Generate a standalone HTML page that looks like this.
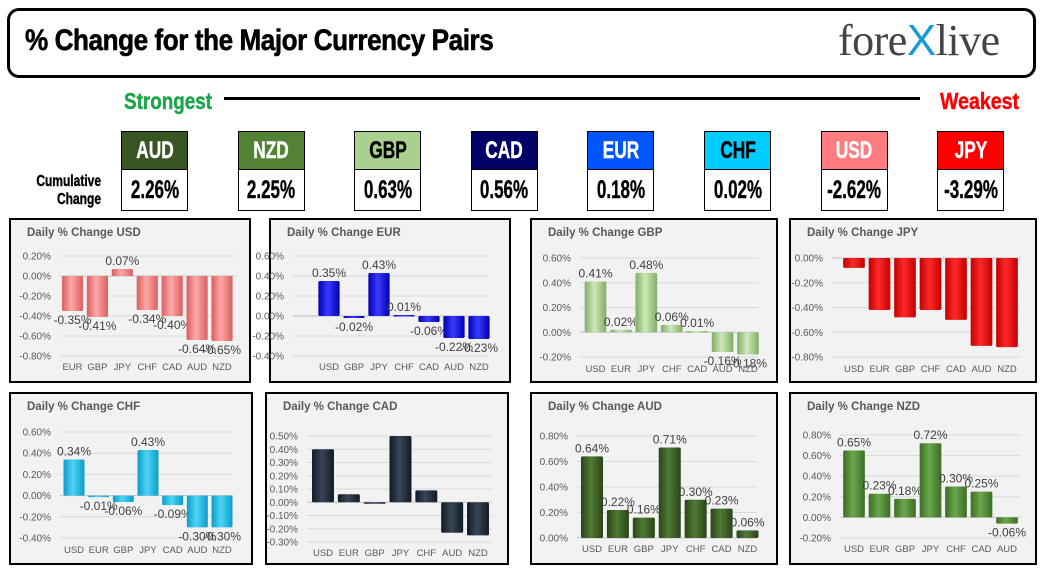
<!DOCTYPE html>
<html><head><meta charset="utf-8">
<style>
body{margin:0;width:1043px;height:578px;background:#fff;overflow:hidden;position:relative;font-family:"Liberation Sans",sans-serif}
.abs{position:absolute}
.hdr{left:7px;top:8px;width:1023px;height:64px;border:3px solid #000;border-radius:12px}
.title{left:25px;top:24px;font-size:30px;font-weight:bold;transform:scaleX(0.87);transform-origin:left top;white-space:nowrap;letter-spacing:-0.5px;-webkit-text-stroke:0.6px #000}
.logo{left:838px;top:15px;font-family:"Liberation Serif",serif;font-size:44px;color:#444;white-space:nowrap;letter-spacing:-0.5px}
.cond{font-weight:bold;transform:scaleX(0.78);transform-origin:left top;white-space:nowrap;-webkit-text-stroke:0.4px currentColor}
.cell{border:1px solid #000;box-sizing:border-box;text-align:center;overflow:visible}
.ct{position:absolute;left:50%;top:0;font-weight:bold;white-space:nowrap;-webkit-text-stroke:0.4px currentColor;transform:translateX(-50%) scaleX(0.72)}
</style></head><body>
<div class="abs hdr"></div>
<div class="abs title">% Change for the Major Currency Pairs</div>
<div class="abs logo">fore<span style="color:#1a9ad6;font-family:'Liberation Sans',sans-serif">X</span>live</div>
<div class="abs cond" style="left:124px;top:88px;font-size:23px;color:#1aa64a;transform:scaleX(0.82)">Strongest</div>
<div class="abs" style="left:224px;top:97px;width:696px;height:3px;background:#000"></div>
<div class="abs cond" style="left:940px;top:88px;font-size:23px;color:#f00;transform:scaleX(0.85)">Weakest</div>
<div class="abs cond" style="left:0px;top:173px;font-size:16px;line-height:18px;text-align:right;width:101px;transform:scaleX(0.75);transform-origin:right top">Cumulative<br>Change</div>
<div id="cells"></div>
<svg id="charts" class="abs" style="left:0;top:0" width="1043" height="578"></svg>
<script>
const cumCurr=["AUD","NZD","GBP","CAD","EUR","CHF","USD","JPY"];
const cumVals=["2.26%","2.25%","0.63%","0.56%","0.18%","0.02%","-2.62%","-3.29%"];
const cumColors=["#375623","#548235","#a9d08e","#000066","#0055ff","#00ccff","#ff7c80","#ff0000"];
const cumText=["#fff","#fff","#000","#fff","#fff","#000","#fff","#fff"];
const cc=document.getElementById('cells');
cumCurr.forEach((c,i)=>{
  const x=121+i*116.6;
  const a=document.createElement('div');a.className='abs cell';
  
  
  a.style.cssText=`left:${x}px;top:131px;width:67px;height:39px;background:${cumColors[i]};color:${cumText[i]};`;
  a.innerHTML=`<div class="ct" style="font-size:24px;line-height:37px">${c}</div>`;
  cc.appendChild(a);
  const b=document.createElement('div');b.className='abs cell';
  
  
  b.style.cssText=`left:${x}px;top:169px;width:67px;height:42px;background:#fff;`;
  b.innerHTML=`<div class="ct" style="font-size:25px;line-height:40px;transform:translateX(-50%) scaleX(0.68)">${cumVals[i]}</div>`;
  cc.appendChild(b);
});

// chart data
const usdCats=["EUR","GBP","JPY","CHF","CAD","AUD","NZD"];
const usdVals=[-0.35,-0.41,0.07,-0.34,-0.40,-0.64,-0.65];
const usdTicks=[0.2,0,-0.2,-0.4,-0.6,-0.8];
const eurCats=["USD","GBP","JPY","CHF","CAD","AUD","NZD"];
const eurVals=[0.35,-0.02,0.43,0.01,-0.06,-0.22,-0.23];
const eurTicks=[0.6,0.4,0.2,0,-0.2,-0.4];
const gbpCats=["USD","EUR","JPY","CHF","CAD","AUD","NZD"];
const gbpVals=[0.41,0.02,0.48,0.06,0.01,-0.16,-0.18];
const gbpTicks=[0.6,0.4,0.2,0,-0.2];
const jpyCats=["USD","EUR","GBP","CHF","CAD","AUD","NZD"];
const jpyVals=[-0.08,-0.42,-0.48,-0.42,-0.50,-0.71,-0.72];
const jpyTicks=[0,-0.2,-0.4,-0.6,-0.8];
const chfCats=["USD","EUR","GBP","JPY","CAD","AUD","NZD"];
const chfVals=[0.34,-0.01,-0.06,0.43,-0.09,-0.30,-0.30];
const chfTicks=[0.6,0.4,0.2,0,-0.2,-0.4];
const cadCats=["USD","EUR","GBP","JPY","CHF","AUD","NZD"];
const cadVals=[0.40,0.06,-0.005,0.50,0.09,-0.23,-0.25];
const cadTicks=[0.5,0.4,0.3,0.2,0.1,0,-0.1,-0.2,-0.3];
const audCats=["USD","EUR","GBP","JPY","CHF","CAD","NZD"];
const audVals=[0.64,0.22,0.16,0.71,0.30,0.23,0.06];
const audTicks=[0.8,0.6,0.4,0.2,0];
const nzdCats=["USD","EUR","GBP","JPY","CHF","CAD","AUD"];
const nzdVals=[0.65,0.23,0.18,0.72,0.30,0.25,-0.06];
const nzdTicks=[0.8,0.6,0.4,0.2,0,-0.2];

const charts=[
 {n:"USD",cats:usdCats,vals:usdVals,ticks:usdTicks,labels:true,panel:[9,218,242,165],gx:[60,235],ty:[256,356],bx:[72.5,222],catY:370,c1:"#d95f5f",c2:"#ffa8a8"},
 {n:"EUR",cats:eurCats,vals:eurVals,ticks:eurTicks,labels:true,panel:[269,218,242,165],gx:[293,489],ty:[256,356],bx:[329,479],catY:370,c1:"#0000b0",c2:"#3a3aff"},
 {n:"GBP",cats:gbpCats,vals:gbpVals,ticks:gbpTicks,labels:true,panel:[530,218,248,165],gx:[580,758],ty:[258,357],bx:[595.5,748],catY:372,c1:"#7fae62",c2:"#cfe8bd"},
 {n:"JPY",cats:jpyCats,vals:jpyVals,ticks:jpyTicks,labels:false,panel:[789,218,248,165],gx:[832,1020],ty:[258,357],bx:[854,1007],catY:372,c1:"#c00000",c2:"#ff2a2a"},
 {n:"CHF",cats:chfCats,vals:chfVals,ticks:chfTicks,labels:true,panel:[9,392,244,173],gx:[60,233],ty:[432,538],bx:[74,222],catY:553,c1:"#0a9cc8",c2:"#4fd4f7"},
 {n:"CAD",cats:cadCats,vals:cadVals,ticks:cadTicks,labels:false,panel:[265,392,244,173],gx:[307,492],ty:[436,542],bx:[323,478],catY:556,c1:"#111a26",c2:"#3a4656"},
 {n:"AUD",cats:audCats,vals:audVals,ticks:audTicks,labels:true,panel:[530,392,248,173],gx:[577,757],ty:[436,538],bx:[592,747.5],catY:552,c1:"#2a4519",c2:"#4f7a36"},
 {n:"NZD",cats:nzdCats,vals:nzdVals,ticks:nzdTicks,labels:true,panel:[789,392,248,173],gx:[840,1020],ty:[435,538],bx:[854,1007],catY:552,c1:"#3f6b27",c2:"#6aa84a"}
];
const NS="http://www.w3.org/2000/svg";
const svg=document.getElementById('charts');
function el(t,a,p){const e=document.createElementNS(NS,t);for(const k in a)e.setAttribute(k,a[k]);(p||svg).appendChild(e);return e;}
const defs=el('defs',{});
function fmt(v){return v.toFixed(2)+"%";}
charts.forEach((c,ci)=>{
  const g=el('g',{});
  
  
  const gr=el('linearGradient',{id:'g'+ci,x1:0,x2:1,y1:0,y2:0},defs);
  el('stop',{offset:'0',"stop-color":c.c1},gr);el('stop',{offset:'0.45',"stop-color":c.c2},gr);el('stop',{offset:'1',"stop-color":c.c1},gr);
  const [px,py,pw,ph]=c.panel;
  const bg=el('rect',{x:px+1,y:py+1,width:pw-2,height:ph-2,fill:'#f2f2f2',stroke:'#000','stroke-width':2},g);
  
  
  const t=el('text',{x:px+18,y:py+18,'font-size':11.5,'font-weight':'bold',fill:'#595959'},g);t.textContent='Daily % Change '+c.n;
  
  
  const tmax=c.ticks[0],tmin=c.ticks[c.ticks.length-1];
  const y=v=>c.ty[0]+(tmax-v)/(tmax-tmin)*(c.ty[1]-c.ty[0]);
  c.ticks.forEach(tv=>{
    el('line',{x1:c.gx[0],x2:c.gx[1],y1:y(tv),y2:y(tv),stroke:tv===0?'#bfbfbf':'#d9d9d9','stroke-width':1},g);
    const tl=el('text',{x:c.gx[0]-9,y:y(tv)+3.5,'font-size':10,fill:'#595959','text-anchor':'end'},g);tl.textContent=fmt(tv);
    
    
  });
  const step=(c.bx[1]-c.bx[0])/(c.cats.length-1);
  const bw=step*0.85;
  c.vals.forEach((v,i)=>{
    const cx=c.bx[0]+i*step;
    const y0=y(0),y1=y(v);
    let top=Math.min(y0,y1),h=Math.max(Math.abs(y1-y0),1.5);
    const r=el('rect',{x:cx-bw/2,y:top,width:bw,height:h,fill:'url(#g'+ci+')',rx:1.5},g);
    
    
    if(c.labels){
      const ly=v>=0?top-4:top+h+13;
      const l=el('text',{x:cx,y:ly,'font-size':12,fill:'#404040','text-anchor':'middle'},g);l.textContent=fmt(v);
      
      
    }
    const cl=el('text',{x:cx,y:c.catY,'font-size':9.5,fill:'#595959','text-anchor':'middle'},g);cl.textContent=c.cats[i];
    
    
  });
});
</script>
</body></html>
